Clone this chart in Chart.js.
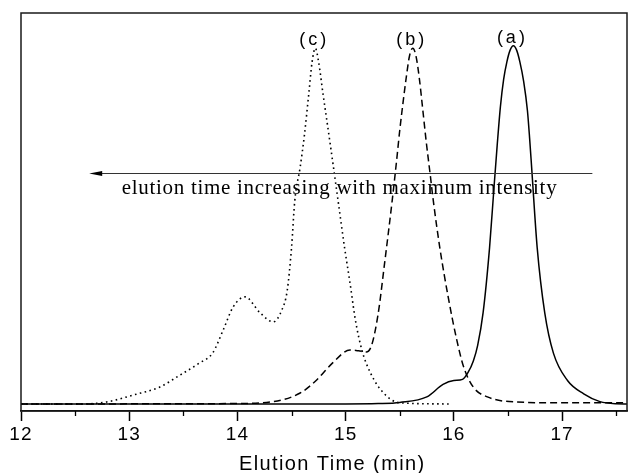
<!DOCTYPE html>
<html><head><meta charset="utf-8">
<script src="https://cdn.jsdelivr.net/npm/chart.js@4/dist/chart.umd.min.js"></script>
<style>html,body{margin:0;padding:0;background:#fff}canvas{display:block}</style>
</head><body>
<canvas id="c" width="629" height="473"></canvas>
<script>
// ---- data ----
const xTicks = [12, 13, 14, 15, 16, 17];
const xMinorTicks = [12.5, 13.5, 14.5, 15.5, 16.5, 17.5];
const xTitle = 'Elution Time (min)';

// (a) solid
const timeA = [12, 15.0, 15.3, 15.5, 15.75, 15.9, 16.0, 16.08, 16.13, 16.18, 16.22, 16.27, 16.33, 16.37, 16.40, 16.43, 16.46, 16.49, 16.52, 16.55, 16.58, 16.61, 16.645, 16.68, 16.70, 16.72, 16.77, 16.84, 16.92, 17.05, 17.2, 17.35, 17.5, 17.6];
const intensityA = [0, 0, 0.1, 0.4, 1.8, 5.0, 6.0, 6.3, 8.0, 11, 15, 23.3, 40, 55, 66, 76, 83, 87.5, 90.5, 91.6, 90.5, 87.5, 82.5, 75, 68, 60, 40, 23.3, 13, 6, 2.6, 0.6, 0.05, 0];

// (b) dashed
const timeB = [12, 13.96, 14.33, 14.58, 14.72, 14.88, 15.04, 15.12, 15.19, 15.24, 15.30, 15.36, 15.43, 15.47, 15.50, 15.53, 15.56, 15.59, 15.62, 15.65, 15.68, 15.71, 15.745, 15.78, 15.81, 15.87, 15.95, 16.03, 16.09, 16.18, 16.31, 16.58, 17.0, 17.6];
const intensityB = [0, 0.1, 0.6, 2.8, 5.8, 10.5, 13.8, 13.6, 13.3, 15, 23, 36, 52, 62, 70, 77, 83.5, 89, 91, 89, 83.5, 76, 67, 59, 52, 40, 27, 16, 9.5, 4.3, 1.8, 0.5, 0.3, 0.3];

// (c) dotted
const timeC = [12, 12.57, 12.79, 13.04, 13.28, 13.47, 13.65, 13.77, 13.87, 13.96, 14.07, 14.21, 14.33, 14.41, 14.46, 14.50, 14.53, 14.58, 14.62, 14.66, 14.69, 14.72, 14.75, 14.79, 14.86, 14.93, 14.99, 15.04, 15.09, 15.15, 15.23, 15.35, 15.50, 15.98];
const intensityC = [0, 0, 0.5, 2.3, 4.3, 7.4, 10.5, 13, 19, 24.8, 27.4, 23.3, 21, 24, 29, 40, 52, 60.6, 69, 79.5, 87.5, 91, 87.5, 79.5, 66, 52, 40, 31, 21.5, 13.8, 7.9, 2.8, 0.3, 0];

const seriesLabels = ['(a)', '(b)', '(c)'];
const arrowText = 'elution time increasing with maximum intensity';
const arrowStart = 17.28, arrowEnd = 12.63, arrowLevel = 59.2;
const captionFrom = 12.93, captionTo = 16.95, captionLevel = 53.6;
const titleCenter = 14.87;

// ---- chart ----
const toPts = (xs, ys) => xs.map((v, i) => ({x: v, y: ys[i]}));

const decor = {
  id: 'decor',
  beforeDraw(chart) { chart.ctx.letterSpacing = '1.1px'; },
  afterDraw(chart) {
    const {ctx, chartArea: a, scales: {x, y}} = chart;
    ctx.save();
    ctx.letterSpacing = '0px';
    // frame
    ctx.strokeStyle = '#1a1a1a';
    ctx.lineWidth = 1.5;
    ctx.strokeRect(a.left, a.top, a.right - a.left, a.bottom - a.top);
    // minor ticks
    ctx.lineWidth = 1.3;
    ctx.strokeStyle = '#000';
    xMinorTicks.forEach(v => {
      const px = Math.round(x.getPixelForValue(v)) + 0.5;
      ctx.beginPath(); ctx.moveTo(px, a.bottom); ctx.lineTo(px, a.bottom + 5); ctx.stroke();
    });
    // axis title
    ctx.fillStyle = '#000';
    ctx.font = '20px "Liberation Sans", Arial, sans-serif';
    ctx.textAlign = 'center';
    ctx.textBaseline = 'alphabetic';
    ctx.letterSpacing = '1.4px';
    ctx.fillText(xTitle, x.getPixelForValue(titleCenter) + 0.7, 470);
    // arrow
    ctx.letterSpacing = '0px';
    const ay = Math.round(y.getPixelForValue(arrowLevel)) + 0.5;
    const x0 = x.getPixelForValue(arrowStart), x1 = x.getPixelForValue(arrowEnd);
    ctx.strokeStyle = '#333'; ctx.lineWidth = 1;
    ctx.beginPath(); ctx.moveTo(x0, ay); ctx.lineTo(x1 + 10, ay); ctx.stroke();
    ctx.beginPath(); ctx.moveTo(x1, ay); ctx.lineTo(x1 + 13, ay - 2.6); ctx.lineTo(x1 + 13, ay + 2.6); ctx.closePath(); ctx.fill();
    // arrow caption
    ctx.font = '21px "Liberation Serif", "Times New Roman", serif';
    ctx.textAlign = 'left';
    const cx0 = x.getPixelForValue(captionFrom);
    const target = x.getPixelForValue(captionTo) - cx0;
    const natural = ctx.measureText(arrowText).width;
    ctx.letterSpacing = ((target - natural) / (arrowText.length - 1)) + 'px';
    ctx.fillText(arrowText, cx0, y.getPixelForValue(captionLevel));
    // peak labels
    ctx.font = '18px "Liberation Sans", Arial, sans-serif';
    ctx.letterSpacing = '3px';
    ctx.textAlign = 'center';
    chart.data.datasets.forEach((ds, i) => {
      let m = 0;
      ds.data.forEach((p, j) => { if (p.y > ds.data[m].y) m = j; });
      const px = x.getPixelForValue(ds.data[m].x);
      const py = y.getPixelForValue(ds.data[m].y);
      ctx.fillText(seriesLabels[i], px - 1, py - 3);
    });
    ctx.restore();
  }
};

new Chart(document.getElementById('c'), {
  type: 'line',
  data: {
    datasets: [
      {label: seriesLabels[0], data: toPts(timeA, intensityA), borderColor: '#000', borderWidth: 1.5, pointRadius: 0, cubicInterpolationMode: 'monotone', fill: false},
      {label: seriesLabels[1], data: toPts(timeB, intensityB), borderColor: '#000', borderWidth: 1.5, borderDash: [7, 4], pointRadius: 0, cubicInterpolationMode: 'monotone', fill: false},
      {label: seriesLabels[2], data: toPts(timeC, intensityC), borderColor: '#000', borderWidth: 1.6, borderDash: [1.6, 3.4], pointRadius: 0, cubicInterpolationMode: 'monotone', fill: false}
    ]
  },
  options: {
    responsive: false,
    devicePixelRatio: 1,
    animation: false,
    events: [],
    layout: {padding: {left: 21, right: 2, top: 13, bottom: 0}},
    plugins: {legend: {display: false}, tooltip: {enabled: false}},
    scales: {
      x: {
        type: 'linear', min: 12, max: 17.6,
        afterBuildTicks: s => { s.ticks = xTicks.map(v => ({value: v})); },
        afterFit: s => { s.height = 62; },
        grid: {display: true, drawOnChartArea: false, drawTicks: true, tickLength: 10, tickColor: '#000', tickWidth: 1.5},
        border: {display: true, color: '#000', width: 1.5},
        ticks: {color: '#000', font: {family: '"Liberation Sans", Arial, sans-serif', size: 19}, padding: 2, maxRotation: 0, autoSkip: false, includeBounds: false},
        title: {display: false, text: xTitle}
      },
      y: {type: 'linear', min: -1.8, max: 100, display: false}
    }
  },
  plugins: [decor]
});
</script>
</body></html>
